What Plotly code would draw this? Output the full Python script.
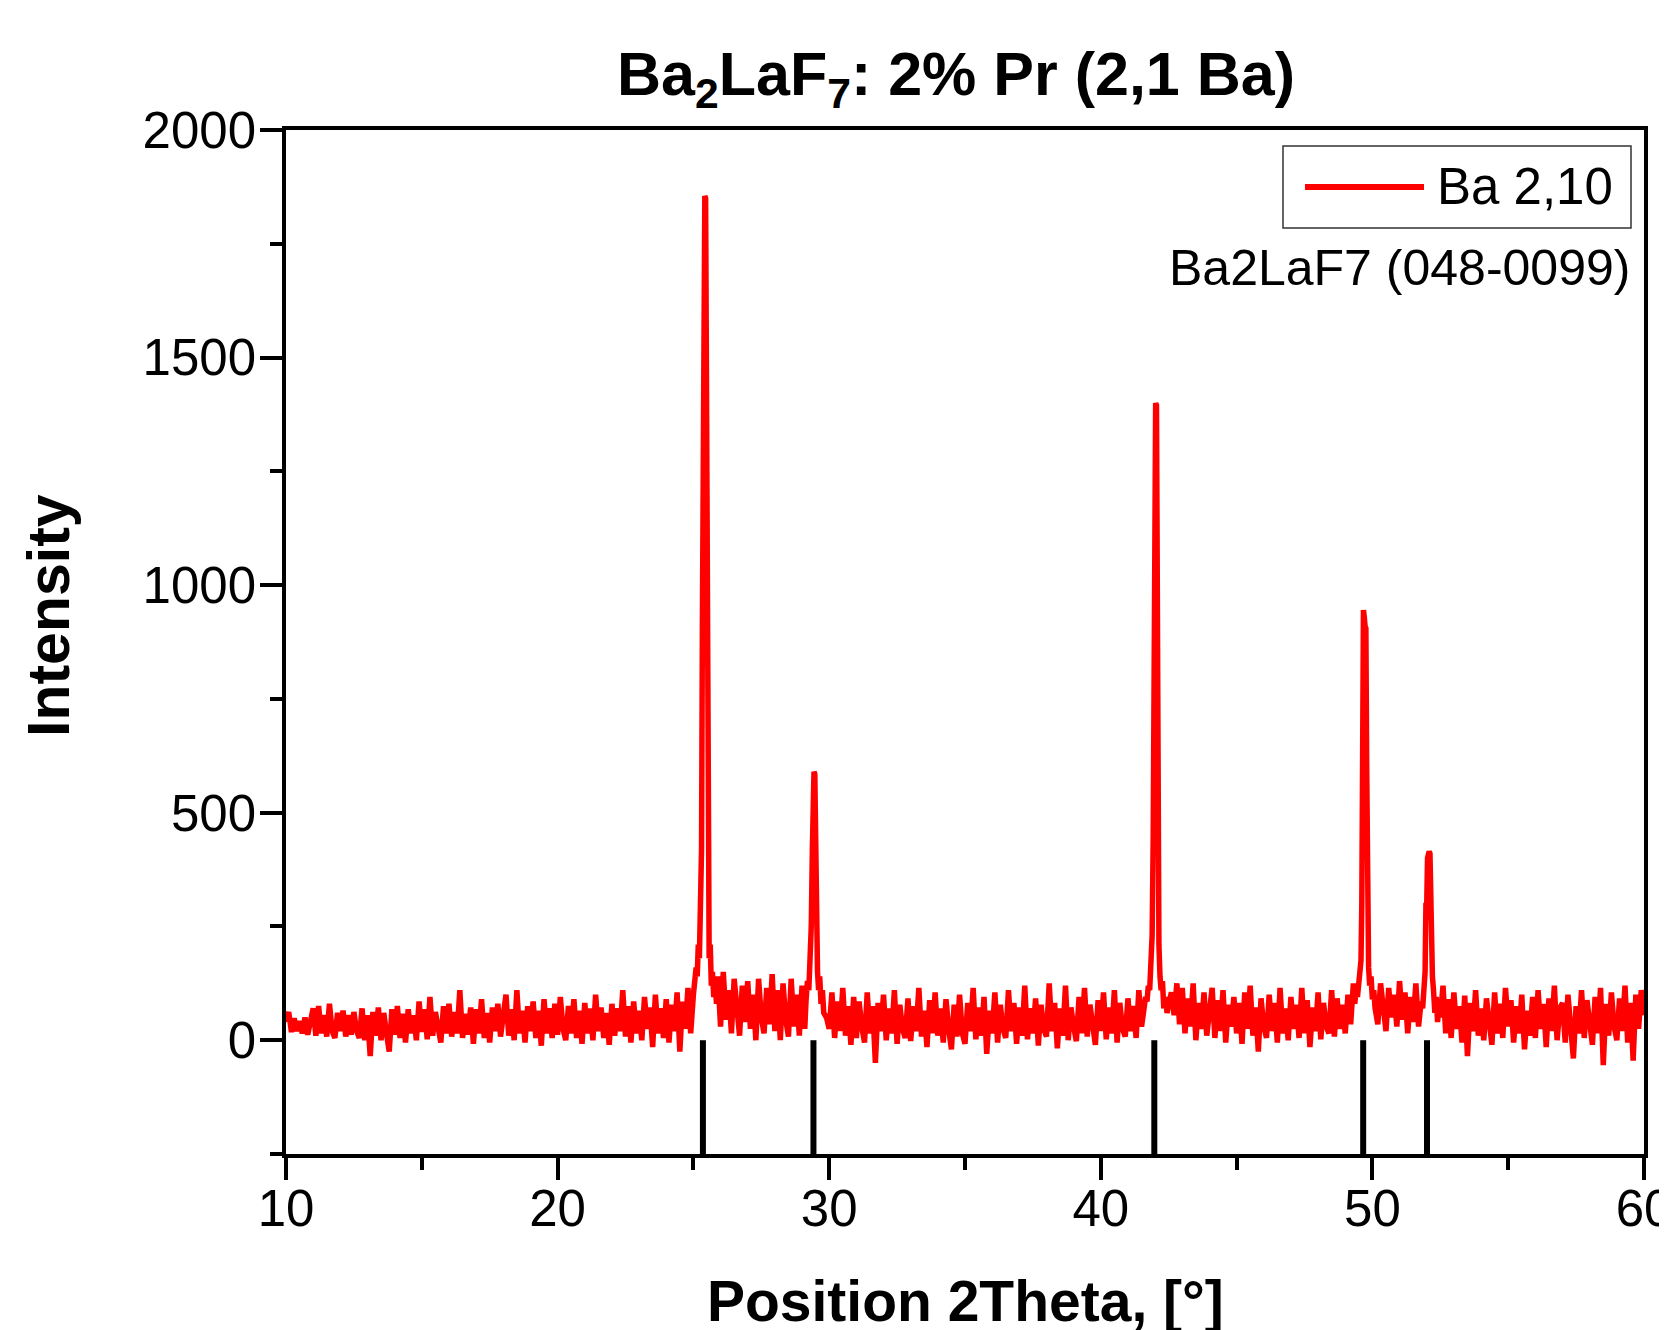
import plotly.graph_objects as go

# ---------------- data ----------------
base_start = 10.0
base_step = 0.1
base_intensity = [
    40, 62, 18, 48, 20, 42, 15, 50, 12, 45,
    70, 10, 75, 15, 55, 8, 80, 20, 5, 60,
    20, 65, 8, 55, 12, 62, 20, 5, 70, 0,
    55, -35, 62, 10, 72, 0, 60, 15, -25, 68,
    12, 75, 5, 58, -5, 68, 15, 55, 0, 85,
    18, 68, 2, 95, 10, 62, 22, -5, 75, 15,
    80, 8, 62, 15, 110, 5, 58, 12, 72, -8,
    68, 15, 90, 5, 60, -5, 72, 20, 80, 8,
    55, 100, 10, 68, 0, 110, 15, 65, -5, 75,
    20, 85, 5, 65, -12, 90, 15, 70, 5, 80,
    12, 95, 25, 0, 75, 15, 90, 5, 65, -8,
    82, 15, 70, 0, 100, 20, 72, 5, 60, -10,
    80, 10, 70, 20, 110, 8, 75, -5, 85, 15,
    65, 0, 95, 25, 72, -15, 100, 15, 70, 5,
    90, -5, 78, 20, 105, -25, 85, 25, 115, 15,
    100, 30, 120, 50, 140, 90, 150, 100, 80, 140,
    30, 150, 45, 110, 15, 135, 55, 10, 120, 40,
    130, 25, 100, 0, 135, 50, 15, 115, 35, 145,
    20, 110, 0, 125, 45, 8, 135, 30, 100, 10,
    120, 25, 150, 30, 90, 60, 130, 80, 110, 50,
    25, 105, 5, 85, 20, 115, 10, 75, -10, 95,
    5, 85, 30, -5, 105, 15, 75, -50, 82, 20,
    100, 0, 70, 15, 110, -8, 78, 25, 5, 92,
    -2, 75, 20, 115, 8, 65, -15, 88, 15, 105,
    10, 70, -5, 90, 25, -20, 78, 8, 100, 15,
    -8, 82, 20, 115, 2, 72, 10, 95, -30, 65,
    15, 105, -5, 78, 25, 5, 110, 20, 82, -8,
    72, 10, 120, 2, 70, 15, 92, -12, 78, 25,
    8, 125, 20, 82, -18, 70, 10, 120, 0, 72,
    30, -2, 95, 15, 115, 8, 78, 25, -10, 88,
    20, 105, 2, 72, 15, 110, -5, 82, 25, 8,
    92, 20, 75, 5, 110, 30, 90, 60, 95, 70,
    140, 300, 1400, 1300, 500, 160, 105, 55, 125, 35,
    115, 15, 92, 30, 125, 0, 82, 25, 105, 10,
    72, 115, 5, 88, 20, 110, -5, 78, 30, 95,
    15, 82, -8, 105, 25, 120, 10, 72, -25, 92,
    30, 5, 100, 20, 82, -5, 115, 15, 70, 0,
    95, 25, 78, 5, 115, 15, 88, -15, 72, 20,
    105, 2, 82, 30, 15, 110, 8, 92, 25, 78,
    15, 100, 35, 125, 60, 140, 110, 130, 100, 140,
    90, 150, 35, 125, 60, 20, 115, 50, 100, 30,
    130, 45, 105, 15, 95, 40, 125, 30, 95, 65,
    300, 400, 410, 280, 150, 90, 120, 15, 90, 5,
    105, 25, 75, -5, 98, -35, 82, 20, 110, 10,
    70, 0, 92, 25, -10, 105, 15, 80, 5, 115,
    30, 88, -5, 75, 15, 100, -20, 65, 10, 95,
    5, 110, 25, 80, -15, 92, 20, 120, 0, 70,
    82, -5, 100, 30, -40, 75, 15, 110, 5, 88,
    25, -10, 95, 15, 115, -55, 80, 10, 105, 30,
    0, 92, 20, 120, -5, 82, -45, 100, 25, 110,
    55,
]

# finely sampled peak profiles (replace the baseline inside their range)
peak1_x = [25.05, 25.10, 25.14, 25.18, 25.22, 25.26, 25.30, 25.33, 25.36, 25.39,
           25.42, 25.45, 25.48, 25.51, 25.54, 25.58, 25.62, 25.66, 25.70, 25.75, 25.80, 25.85]
peak1_y = [120, 160, 140, 210, 180, 260, 420, 900, 1500, 1855,
           1855, 1850, 1300, 700, 330, 180, 210, 120, 150, 95, 130, 80]

peak2_x = [29.15, 29.20, 29.25, 29.30, 29.34, 29.38, 29.41, 29.44, 29.47, 29.50,
           29.53, 29.57, 29.61, 29.65, 29.70, 29.75, 29.80]
peak2_y = [90, 130, 110, 170, 250, 420, 590, 590, 585, 430,
           250, 150, 110, 140, 80, 110, 60]

peak3_x = [41.60, 41.65, 41.70, 41.75, 41.80, 41.85, 41.89, 41.93, 41.96, 41.99,
           42.02, 42.05, 42.08, 42.11, 42.14, 42.18, 42.22, 42.27, 42.32, 42.38, 42.44, 42.50]
peak3_y = [70, 95, 85, 120, 110, 170, 230, 450, 900, 1400,
           1400, 1395, 900, 420, 210, 140, 110, 130, 70, 95, 60, 80]

peak4_x = [49.35, 49.40, 49.45, 49.50, 49.54, 49.58, 49.61, 49.64, 49.67, 49.70,
           49.73, 49.76, 49.79, 49.82, 49.86, 49.90, 49.95, 50.00, 50.05, 50.10]
peak4_y = [80, 110, 95, 140, 150, 175, 300, 650, 945, 930,
           910, 905, 600, 300, 160, 120, 140, 90, 110, 70]

peak5_x = [51.75, 51.80, 51.85, 51.90, 51.94, 51.97, 52.00, 52.03, 52.06, 52.09,
           52.12, 52.15, 52.18, 52.21, 52.25, 52.30, 52.35, 52.40, 52.45, 52.50]
peak5_y = [60, 85, 70, 110, 150, 296, 296, 400, 415, 415,
           410, 280, 200, 140, 110, 60, 95, 40, 80, 50]

# reference pattern Ba2LaF7 (048-0099)
ref_positions = [25.35, 29.42, 41.97, 49.66, 52.01]
ref_bottom = -250

series_name = "Ba 2,10"
ref_name = "Ba2LaF7 (048-0099)"
title_text = "<b>Ba<sub>2</sub>LaF<sub>7</sub>: 2% Pr (2,1 Ba)</b>"
x_title = "<b>Position 2Theta, [°]</b>"
y_title = "<b>Intensity</b>"

# ---------------- assemble the scan ----------------
segments = [(peak1_x, peak1_y), (peak2_x, peak2_y), (peak3_x, peak3_y),
            (peak4_x, peak4_y), (peak5_x, peak5_y)]
points = []
for i, v in enumerate(base_intensity):
    x = round(base_start + i * base_step, 3)
    if any(sx[0] <= x <= sx[-1] for sx, _ in segments):
        continue
    points.append((x, v))
for sx, sy in segments:
    points.extend(zip(sx, sy))
points.sort()
scan_x = [p[0] for p in points]
scan_y = [p[1] for p in points]

stick_x, stick_y = [], []
for p in ref_positions:
    stick_x += [p, p, None]
    stick_y += [0, ref_bottom, None]

FONT = "Liberation Sans, Arial, sans-serif"

fig = go.Figure()
fig.add_trace(go.Scatter(x=stick_x, y=stick_y, mode="lines",
                         line=dict(color="black", width=6), name=ref_name,
                         showlegend=False, hoverinfo="skip"))
fig.add_trace(go.Scatter(x=scan_x, y=scan_y, mode="lines",
                         line=dict(color="#ff0000", width=5.5), name=series_name,
                         showlegend=False))

# page offset: the html body has an 8px margin
OFF = 8
W, H = 1667, 1330
PL, PR, PT, PB = 286, 1644, 130, 1154      # plot area in screenshot pixels
L, T = PL - OFF, PT - OFF
R = W - (PR - OFF)
B = H - (PB - OFF)
pw, ph = PR - PL, PB - PT

def px(xs):
    return (xs - PL) / pw

def py(ys):
    return (PB - ys) / ph

axis_common = dict(
    showline=True, linecolor="black", linewidth=3.5, mirror=True,
    ticks="outside", ticklen=22, tickwidth=3.5, tickcolor="black",
    showgrid=False, zeroline=False, ticklabeloverflow="allow",
    automargin=False,
    tickfont=dict(family=FONT, size=51, color="black"),
)

fig.update_xaxes(range=[10, 60], tickvals=[10, 20, 30, 40, 50, 60],
                 minor=dict(dtick=5, ticklen=12, tickwidth=3.5, tickcolor="black", ticks="outside"),
                 ticklabelstandoff=-15, **axis_common)
fig.update_yaxes(range=[-250, 2000], tickvals=[0, 500, 1000, 1500, 2000],
                 minor=dict(dtick=250, tick0=0, ticklen=12, tickwidth=3.5, tickcolor="black", ticks="outside"),
                 ticklabelstandoff=-6, **axis_common)

annotations = [
    dict(text=title_text, x=px(956), y=py(78), xref="paper", yref="paper",
         xanchor="center", yanchor="middle", showarrow=False,
         font=dict(family=FONT, size=61, color="black")),
    dict(text=x_title, x=0.5, y=py(1301), xref="paper", yref="paper",
         xanchor="center", yanchor="middle", showarrow=False,
         font=dict(family=FONT, size=57, color="black")),
    dict(text=y_title, x=px(49), y=py(616), xref="paper", yref="paper",
         xanchor="center", yanchor="middle", showarrow=False, textangle=-90,
         font=dict(family=FONT, size=59, color="black")),
    dict(text=series_name, x=px(1435), y=py(186), xref="paper", yref="paper",
         xanchor="left", yanchor="middle", showarrow=False,
         font=dict(family=FONT, size=51, color="black")),
    dict(text=ref_name, x=px(1632), y=py(268), xref="paper", yref="paper",
         xanchor="right", yanchor="middle", showarrow=False,
         font=dict(family=FONT, size=50, color="black")),
]

shapes = [
    dict(type="rect", xref="paper", yref="paper", x0=px(1283), x1=px(1631),
         y0=py(228), y1=py(146), line=dict(color="#333333", width=1.5),
         fillcolor="white", layer="above"),
    dict(type="line", xref="paper", yref="paper", x0=px(1305), x1=px(1424),
         y0=py(187), y1=py(187), line=dict(color="#ff0000", width=6), layer="above"),
]

fig.update_layout(
    width=W, height=H,
    margin=dict(l=L, r=R, t=T, b=B, pad=0, autoexpand=False),
    paper_bgcolor="white", plot_bgcolor="white",
    showlegend=False,
    annotations=annotations, shapes=shapes,
    font=dict(family=FONT, color="black"),
)

fig.write_html("out.html")
